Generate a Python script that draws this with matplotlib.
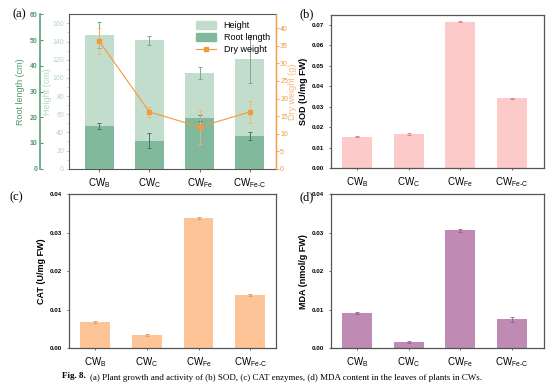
import numpy as np
import matplotlib
matplotlib.use('Agg')
from matplotlib import pyplot as plt
from matplotlib.patches import Patch
from matplotlib.lines import Line2D

plt.rcParams['font.family'] = ['Liberation Sans', 'DejaVu Sans']
plt.rcParams['mathtext.fontset'] = 'custom'
plt.rcParams['mathtext.rm'] = 'Liberation Sans'
plt.rcParams['mathtext.it'] = 'Liberation Sans:italic'
plt.rcParams['mathtext.bf'] = 'Liberation Sans:bold'

# data
groups = [r'CW$_\mathrm{B}$', r'CW$_\mathrm{C}$', r'CW$_\mathrm{Fe}$', r'CW$_{\mathrm{Fe}\text{-}\mathrm{C}}$']
height = [147.4, 141.2, 105.0, 120.7]
height_err = [14.3, 4.8, 6.6, 26.8]
root = [16.5, 10.9, 19.7, 12.7]
root_err = [1.2, 2.8, 1.2, 1.5]
dry = [36.4, 16.2, 11.9, 16.2]
dry_err = [3.7, 1.5, 4.8, 3.2]
sod = [0.0155, 0.0168, 0.0716, 0.0342]
sod_err = [0.0003, 0.0003, 0.0004, 0.0003]
cat = [0.0068, 0.0034, 0.0338, 0.0138]
cat_err = [0.0002, 0.0002, 0.0003, 0.0002]
mda = [0.0092, 0.0017, 0.0306, 0.0075]
mda_err = [0.0002, 0.0002, 0.0004, 0.0006]

x = np.arange(len(groups))
frame_col = '#555555'
c_height = '#c3ddcd'
c_root = '#80b99b'
c_dry = '#f39a3c'

fig = plt.figure(figsize=(5.54, 3.87), dpi=100)

# ---- (a) plant growth
ax = fig.add_axes([0.1245, 0.564, 0.3736, 0.399])
ax.bar(x, height, width=0.58, color=c_height, zorder=1)
ax.errorbar(x, height, yerr=height_err, fmt='none', ecolor='#7fa890',
            elinewidth=0.7, capsize=1.5, capthick=0.7, zorder=2)
ax.set_ylim(0, 170)
ax.set_xlim(-0.6, 3.52)
ax.set_yticks(np.arange(0, 161, 20))
ax.set_yticks(np.arange(10, 170, 20), minor=True)
ax.tick_params(axis='y', which='both', colors='#b5d6bf', labelsize=5, length=2,
               width=0.6, pad=1.5)
ax.tick_params(axis='y', which='minor', length=1.2)
ax.set_ylabel('Height (cm)', fontsize=6.5, color='#b5d6bf', labelpad=0)
ax.set_xticks(x)
ax.set_xticklabels(groups, fontsize=7)
ax.tick_params(axis='x', length=2, width=0.6, colors=frame_col, labelcolor='black')
for s in ['top', 'bottom', 'left']:
    ax.spines[s].set_color(frame_col)
ax.spines['right'].set_visible(False)

axr = ax.twinx()
axr.bar(x, root, width=0.58, color=c_root, zorder=1)
axr.errorbar(x, root, yerr=root_err, fmt='none', ecolor='#3f7a5a',
             elinewidth=0.7, capsize=1.5, capthick=0.7, zorder=2)
axr.set_ylim(0, 60)
axr.yaxis.set_label_position('left')
axr.yaxis.tick_left()
axr.spines['left'].set_position(('axes', -0.14))
axr.spines['left'].set_color('#5aa07a')
axr.spines['left'].set_linewidth(1.2)
for s in ['top', 'bottom', 'right']:
    axr.spines[s].set_visible(False)
axr.set_yticks(np.arange(0, 61, 10))
axr.tick_params(axis='y', colors='#4e9a70', labelsize=5, length=2, width=0.8,
                direction='in', pad=2)
for t in axr.get_yticklabels():
    t.set_fontweight('bold')
axr.set_ylabel('Root length (cm)', fontsize=6.5, color='#4e9a70', labelpad=3)

axd = ax.twinx()
axd.errorbar(x, dry, yerr=dry_err, color=c_dry, marker='s', markersize=3,
             linewidth=0.8, elinewidth=0.6, capsize=1.5, capthick=0.6,
             ecolor='#f6b26b', zorder=3)
axd.set_ylim(0, 44)
axd.set_yticks(np.arange(0, 41, 5))
axd.spines['right'].set_color(c_dry)
axd.spines['right'].set_linewidth(1.0)
for s in ['top', 'bottom', 'left']:
    axd.spines[s].set_visible(False)
axd.tick_params(axis='y', colors=c_dry, labelsize=5, length=2, width=0.6, pad=1)
axd.set_ylabel('Dry weight (g)', fontsize=6.5, color='#f5b77a', labelpad=0)
ax.spines['top'].set_zorder(5)

handles = [Patch(color=c_height, label='Height'),
           Patch(color=c_root, label='Root length'),
           Line2D([], [], color=c_dry, marker='s', markersize=3, linewidth=0.8,
                  label='Dry weight')]
axd.legend(handles=handles, loc='upper right', fontsize=6.5, frameon=False,
           handlelength=2.2, handleheight=1.0, borderaxespad=0.3, labelspacing=0.35)


def simple_panel(rect, vals, errs, color, ecolor, ylim, yticks, ylabel, xlim):
    a = fig.add_axes(rect)
    a.bar(x, vals, width=0.58, color=color)
    a.errorbar(x, vals, yerr=errs, fmt='none', ecolor=ecolor, elinewidth=0.6,
               capsize=1.2, capthick=0.6)
    a.set_ylim(*ylim)
    a.set_xlim(*xlim)
    a.set_yticks(yticks)
    a.set_yticklabels(['%.2f' % v for v in yticks], fontsize=4.5, fontweight='bold')
    a.set_xticks(x)
    a.set_xticklabels(groups, fontsize=7)
    a.tick_params(length=1.5, width=0.6, colors=frame_col, labelcolor='black')
    a.set_ylabel(ylabel, fontsize=6.5, fontweight='bold', labelpad=3)
    for s in a.spines.values():
        s.set_color(frame_col)
        s.set_linewidth(0.9)
    return a


simple_panel([0.5975, 0.565, 0.3836, 0.397], sod, sod_err, '#fdcaca', '#e07a7a',
             (0, 0.075), np.arange(0, 0.071, 0.01), 'SOD (U/mg FW)', (-0.5, 3.61))
simple_panel([0.1245, 0.1, 0.3736, 0.3987], cat, cat_err, '#fdc497', '#e8975a',
             (0, 0.04), np.arange(0, 0.041, 0.01), 'CAT (U/mg FW)', (-0.51, 3.5))
simple_panel([0.5975, 0.1, 0.3836, 0.3987], mda, mda_err, '#bf8ab3', '#9a5a90',
             (0, 0.04), np.arange(0, 0.041, 0.01), 'MDA (nmol/g FW)', (-0.5, 3.61))

serif = ['Liberation Serif', 'DejaVu Serif']
fig.text(0.022, 0.963, '(a)', fontsize=9, family=serif, va='center')
fig.text(0.54, 0.963, '(b)', fontsize=9, family=serif, va='center')
fig.text(0.018, 0.49, '(c)', fontsize=9, family=serif, va='center')
fig.text(0.54, 0.49, '(d)', fontsize=9, family=serif, va='center')

# caption: bold "Fig. 8." followed by the plain text
cap = fig.text(0.112, 0.022, 'Fig. 8.', fontsize=6.5, family=serif,
               fontweight='bold', va='baseline')
ax.annotate('(a) Plant growth and activity of (b) SOD, (c) CAT enzymes, '
            '(d) MDA content in the leaves of plants in CWs.',
            xy=(1, 0), xycoords=cap, xytext=(3, 0), textcoords='offset points',
            fontsize=6.5, family=serif, va='baseline', annotation_clip=False)

fig.savefig('out.png', dpi=100)
